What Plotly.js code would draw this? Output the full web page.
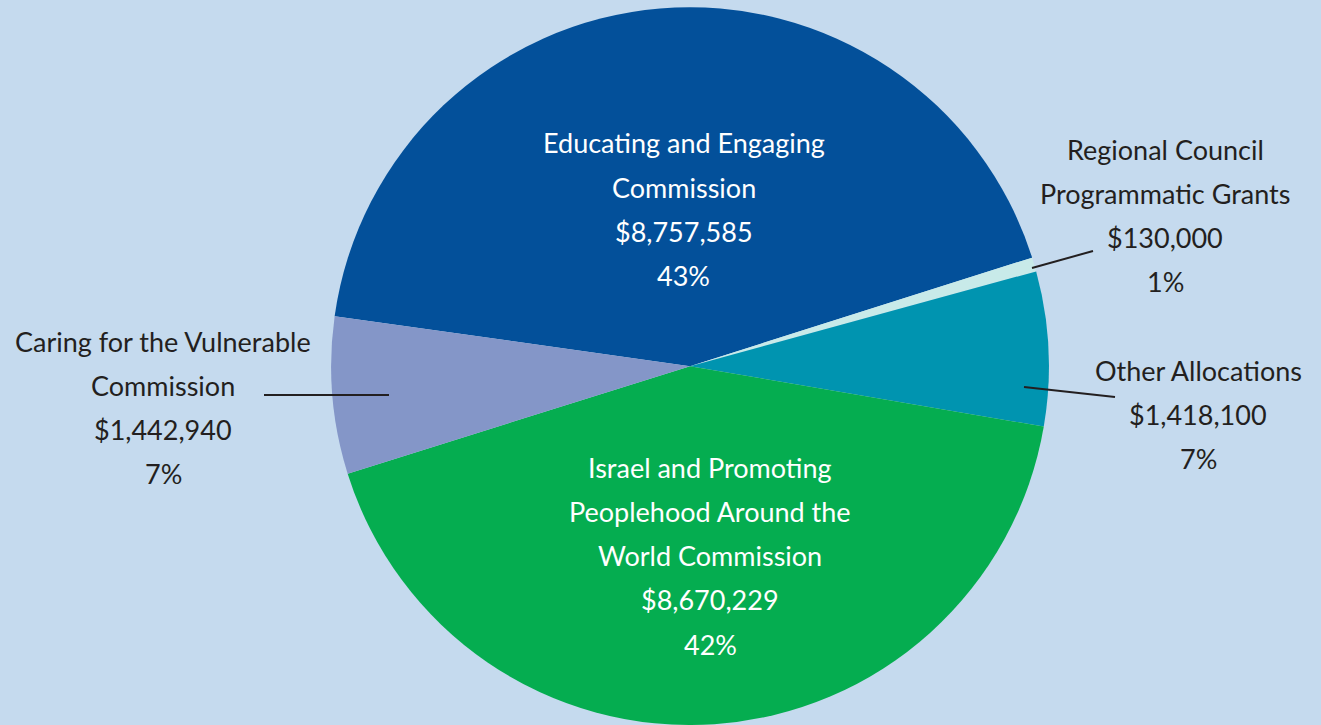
<!DOCTYPE html>
<html>
<head>
<meta charset="utf-8">
<script src="https://cdn.plot.ly/plotly-3.0.1.min.js"></script>
<style>html,body{margin:0;padding:0;background:#c5daee;}#chart{width:1321px;height:725px;}</style>
</head>
<body>
<div id="chart"></div>
<script>
// ---- data ----
const categories = [
  'Educating and Engaging Commission',
  'Regional Council Programmatic Grants',
  'Other Allocations',
  'Israel and Promoting Peoplehood Around the World Commission',
  'Caring for the Vulnerable Commission'
];
const labelLines = [
  ['Educating and Engaging', 'Commission'],
  ['Regional Council', 'Programmatic Grants'],
  ['Other Allocations'],
  ['Israel and Promoting', 'Peoplehood Around the', 'World Commission'],
  ['Caring for the Vulnerable', 'Commission']
];
const values = [8757585, 130000, 1418100, 8670229, 1442940];

// ---- styles ----
const colors = ['#03509a', '#c8eae9', '#0094b0', '#05ad50', '#8496c8'];
const textColors = ['#ffffff', '#231f20', '#231f20', '#ffffff', '#231f20'];
// label block placement in pixels: centre x, first line centre y
const labelPos = [
  {x: 684, y: 143},
  {x: 1165, y: 149},
  {x: 1198, y: 370},
  {x: 710, y: 467},
  {x: 163, y: 341}
];
const lineStep = 44.3;
const W = 1321, H = 725;
const px = x => x / W;
const py = y => 1 - y / H;

const total = values.reduce((a, b) => a + b, 0);
const annotations = [];
categories.forEach((c, i) => {
  const lines = labelLines[i].concat([
    '$' + values[i].toLocaleString('en-US'),
    Math.max(1, Math.round(values[i] / total * 100)) + '%'
  ]);
  lines.forEach((t, k) => {
    annotations.push({
      text: t, showarrow: false, xref: 'paper', yref: 'paper',
      x: px(labelPos[i].x), y: py(labelPos[i].y + k * lineStep),
      xanchor: 'center', yanchor: 'middle',
      font: {family: 'Lato, "Open Sans", sans-serif', size: 27, color: textColors[i]}
    });
  });
});

// leader lines (pixels)
const leaders = [
  [1032, 268, 1093, 251],
  [1024, 387, 1115, 397],
  [264, 395, 389, 395]
];
const shapes = leaders.map(l => ({
  type: 'line', xref: 'paper', yref: 'paper',
  x0: px(l[0]), y0: py(l[1]), x1: px(l[2]), y1: py(l[3]),
  line: {color: '#231f20', width: 2}
}));

const trace = {
  type: 'pie',
  labels: categories,
  values: values,
  sort: false,
  direction: 'clockwise',
  rotation: -82,
  textinfo: 'none',
  hoverinfo: 'label+value+percent',
  marker: {colors: colors, line: {width: 0}},
  domain: {x: [0.2, 0.8447], y: [0, 0.99]},
  showlegend: false
};

Plotly.newPlot('chart', [trace], {
  width: W, height: H,
  margin: {l: 0, r: 0, t: 0, b: 0},
  paper_bgcolor: '#c5daee',
  plot_bgcolor: '#c5daee',
  showlegend: false,
  annotations: annotations,
  shapes: shapes
}, {displayModeBar: false, staticPlot: true});
</script>
</body>
</html>
